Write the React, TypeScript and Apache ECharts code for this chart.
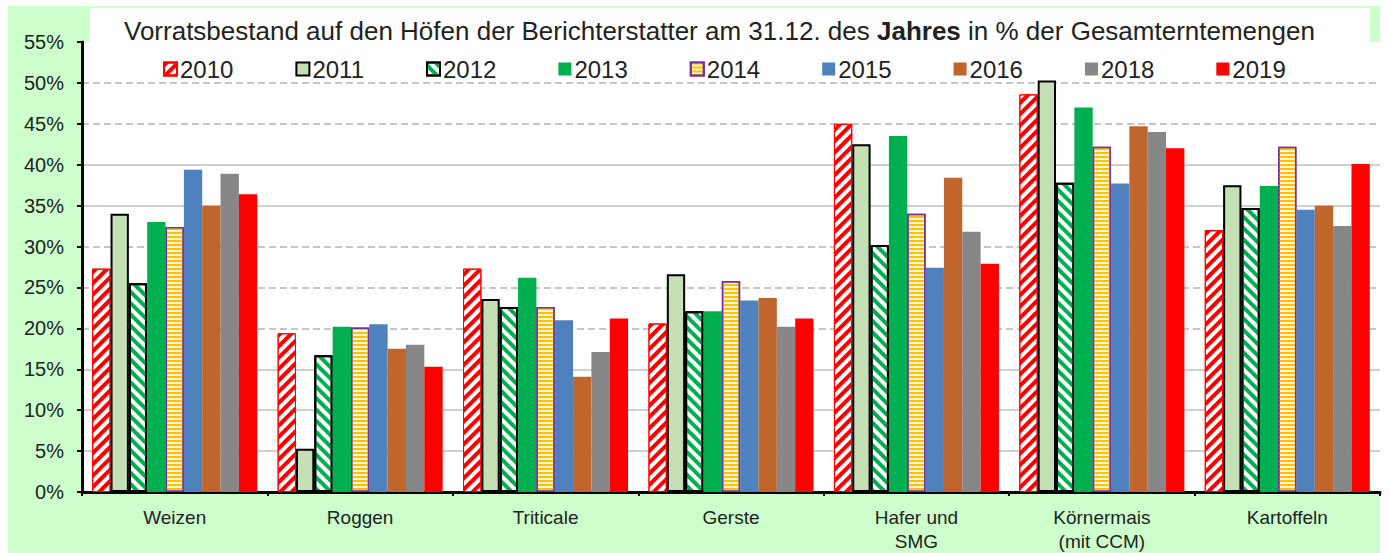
import React, { useEffect, useRef } from "react";
import * as echarts from "echarts";

const categories = [
  "Weizen",
  "Roggen",
  "Triticale",
  "Gerste",
  "Hafer und\nSMG",
  "Körnermais\n(mit CCM)",
  "Kartoffeln",
];
const years = ["2010", "2011", "2012", "2013", "2014", "2015", "2016", "2018", "2019"];

const v2010 = [27.3, 19.4, 27.3, 20.6, 45.0, 48.6, 32.0];
const v2011 = [34.0, 5.3, 23.6, 26.6, 42.5, 50.3, 37.5];
const v2012 = [25.5, 16.7, 22.6, 22.1, 30.2, 37.8, 34.7];
const v2013 = [33.0, 20.2, 26.2, 22.1, 43.5, 47.0, 37.4];
const v2014 = [32.4, 20.1, 22.6, 25.8, 34.0, 42.2, 42.2];
const v2015 = [39.4, 20.5, 21.0, 23.4, 27.4, 37.7, 34.5];
const v2016 = [35.0, 17.5, 14.1, 23.7, 38.4, 44.7, 35.0];
const v2018 = [38.9, 18.0, 17.1, 20.2, 31.8, 44.0, 32.5];
const v2019 = [36.4, 15.3, 21.2, 21.2, 27.9, 42.0, 40.1];

const yTicks = [0, 5, 10, 15, 20, 25, 30, 35, 40, 45, 50, 55];
const dashedAt = [20, 25, 30, 45, 50];
const noLineAt = [0, 55];

const values = [v2010, v2011, v2012, v2013, v2014, v2015, v2016, v2018, v2019];

const FONT = "'Liberation Sans', Arial, sans-serif";

function styleFor(year: string): any {
  switch (year) {
    case "2010":
      return {
        color: "#ffffff",
        borderColor: "#ff0000",
        borderWidth: 1,
        decal: {
          symbol: "rect",
          symbolSize: 1,
          color: "#ff0000",
          dashArrayX: [1, 0],
          dashArrayY: [3.5, 3.5],
          rotation: -Math.PI / 4,
        },
      };
    case "2011":
      return { color: "#c4dfb3", borderColor: "#000000", borderWidth: 2 };
    case "2012":
      return {
        color: "#ffffff",
        borderColor: "#000000",
        borderWidth: 2,
        decal: {
          symbol: "rect",
          symbolSize: 1,
          color: "#00b050",
          dashArrayX: [1, 0],
          dashArrayY: [3.5, 3.5],
          rotation: Math.PI / 4,
        },
      };
    case "2013":
      return { color: "#00b050" };
    case "2014":
      return {
        color: "#fff6d5",
        borderColor: "#7030a0",
        borderWidth: 1.5,
        decal: {
          symbol: "rect",
          symbolSize: 1,
          color: "#ffc000",
          dashArrayX: [1, 0],
          dashArrayY: [1.6, 1.6],
          rotation: 0,
        },
      };
    case "2015":
      return { color: "#4f81bd" };
    case "2016":
      return { color: "#c0652b" };
    case "2018":
      return { color: "#878787" };
    default:
      return { color: "#ff0000" };
  }
}

export default function App() {
  const ref = useRef<HTMLDivElement>(null);

  useEffect(() => {
    if (!ref.current) return;
    const chart = echarts.init(ref.current, undefined, { renderer: "svg" });

    const solidColors = yTicks.map((t) =>
      noLineAt.includes(t) || dashedAt.includes(t) ? "rgba(0,0,0,0)" : "#c0c0c0"
    );
    const dashedColors = yTicks.map((t) =>
      dashedAt.includes(t) ? "#b4b4b4" : "rgba(0,0,0,0)"
    );

    const yBase = {
      type: "value",
      min: 0,
      max: 55,
      interval: 5,
      position: "left",
    };

    const option: any = {
      animation: false,
      backgroundColor: "transparent",
      textStyle: { fontFamily: FONT },
      title: {
        text: "Vorratsbestand auf den Höfen der Berichterstatter am 31.12. des {b|Jahres} in % der Gesamterntemengen",
        left: 119,
        top: 13,
        textStyle: {
          fontFamily: FONT,
          fontSize: 26,
          fontWeight: "normal",
          color: "#222222",
          rich: {
            b: { fontFamily: FONT, fontSize: 26, fontWeight: "bold", color: "#222222" },
          },
        },
      },
      legend: {
        data: years,
        left: 158,
        top: 52,
        itemWidth: 13,
        itemHeight: 13,
        itemGap: 62,
        icon: "rect",
        textStyle: { fontFamily: FONT, fontSize: 24, color: "#222222", padding: [0, 0, 0, -2] },
      },
      grid: {
        left: 82,
        right: 9,
        top: 42,
        bottom: 61,
        show: true,
        backgroundColor: "#ffffff",
        borderWidth: 0,
      },
      xAxis: {
        type: "category",
        data: categories,
        axisLine: { show: true, lineStyle: { color: "#000000", width: 3 } },
        axisTick: { show: true, length: 4, lineStyle: { color: "#000000", width: 2 } },
        axisLabel: {
          interval: 0,
          fontFamily: FONT,
          fontSize: 19,
          lineHeight: 24,
          color: "#222222",
          margin: 13,
        },
        splitLine: { show: false },
      },
      yAxis: [
        {
          ...yBase,
          axisLine: { show: true, lineStyle: { color: "#000000", width: 3 } },
          axisTick: { show: true, length: 5, lineStyle: { color: "#000000", width: 2 } },
          axisLabel: {
            formatter: "{value}%",
            fontFamily: FONT,
            fontSize: 20,
            color: "#222222",
            margin: 18,
          },
          splitLine: { show: true, lineStyle: { color: solidColors, width: 1.5 } },
        },
        {
          ...yBase,
          axisLine: { show: false },
          axisTick: { show: false },
          axisLabel: { show: false },
          splitLine: {
            show: true,
            lineStyle: { color: dashedColors, width: 1.5, type: [7, 4] },
          },
        },
      ],
      series: years.map((y, i) => ({
        name: y,
        type: "bar",
        data: values[i],
        yAxisIndex: 0,
        barGap: "0%",
        barCategoryGap: "11%",
        itemStyle: styleFor(y),
        emphasis: { disabled: true },
      })),
    };

    chart.setOption(option);
    return () => chart.dispose();
  }, []);

  return (
    <div style={{ position: "fixed", left: 0, top: 0, width: 1389, height: 553, background: "#ffffff" }}>
      <div style={{ position: "absolute", left: 8, top: 6, width: 1372, height: 547, background: "#ccffcc" }} />
      <div style={{ position: "absolute", left: 90, top: 8, width: 1280, height: 36, background: "#ffffff" }} />
      <div ref={ref} style={{ position: "absolute", left: 0, top: 0, width: 1389, height: 553 }} />
    </div>
  );
}
